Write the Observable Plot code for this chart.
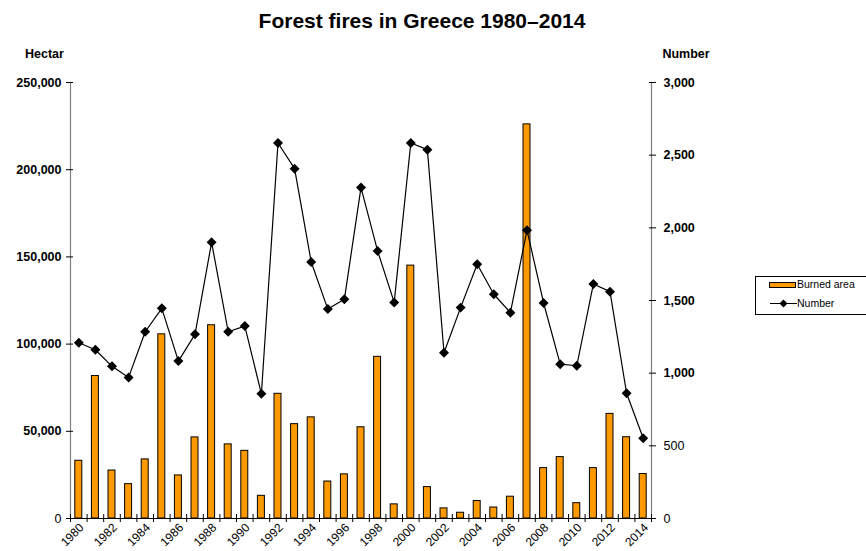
<!DOCTYPE html>
<html>
<head>
<meta charset="utf-8">
<script src="https://cdn.jsdelivr.net/npm/d3@7"></script>
<script src="https://cdn.jsdelivr.net/npm/@observablehq/plot@0.6"></script>
<style>
  body { margin: 0; background: #fff; }
  #wrap { position: relative; width: 866px; height: 551px; overflow: hidden; font-family: "Liberation Sans", Arial, sans-serif; }
  #chart { position: absolute; left: 0; top: 0; }
  #overlay { position: absolute; left: 0; top: 0; pointer-events: none; }
</style>
</head>
<body>
<div id="wrap">
  <div id="chart"></div>
  <svg id="overlay" width="866" height="551" font-family="Liberation Sans, Arial, sans-serif">
    <text x="422" y="28" text-anchor="middle" font-size="21" font-weight="bold" fill="#000">Forest fires in Greece 1980–2014</text>
    <text x="44.5" y="58" text-anchor="middle" font-size="12.5" font-weight="bold" fill="#000">Hectar</text>
    <text x="686" y="58" text-anchor="middle" font-size="12.5" font-weight="bold" fill="#000">Number</text>
    <g id="legend">
      <rect x="755.5" y="276.5" width="118" height="38" fill="#fff" stroke="#000" stroke-width="1"></rect>
      <rect x="769.5" y="282.5" width="26" height="5" fill="#FF9900" stroke="#000" stroke-width="1"></rect>
      <text x="797" y="288" font-size="10.5" fill="#000">Burned area</text>
      <line x1="770" y1="303.5" x2="797" y2="303.5" stroke="#000" stroke-width="1"></line>
      <path d="M783.5,299.5L787.5,303.5L783.5,307.5L779.5,303.5Z" fill="#000"></path>
      <text x="797" y="307" font-size="10.5" fill="#000">Number</text>
    </g>
  </svg>
</div>
<script>
// Categories
const years = [1980, 1981, 1982, 1983, 1984, 1985, 1986, 1987, 1988, 1989,
               1990, 1991, 1992, 1993, 1994, 1995, 1996, 1997, 1998, 1999,
               2000, 2001, 2002, 2003, 2004, 2005, 2006, 2007, 2008, 2009,
               2010, 2011, 2012, 2013, 2014];
// Burned area (hectares), left axis
const burnedArea = [33100, 81700, 27500, 19700, 33900, 105600, 24700, 46500, 110800, 42500,
                    38800, 13000, 71500, 54100, 58000, 21200, 25300, 52300, 92700, 8100,
                    145000, 18000, 5800, 3300, 10000, 6300, 12500, 226000, 28900, 35200,
                    8800, 28900, 60000, 46600, 25500];
// Number of fires, right axis
const fireCount = [1209, 1161, 1047, 971, 1285, 1446, 1083, 1267, 1900, 1285,
                   1324, 858, 2584, 2407, 1765, 1441, 1509, 2277, 1841, 1487,
                   2584, 2538, 1140, 1451, 1750, 1543, 1416, 1984, 1483, 1062,
                   1051, 1614, 1561, 862, 552];
// Tick values
const leftTicks = [0, 50000, 100000, 150000, 200000, 250000];
const rightTicks = [0, 500, 1000, 1500, 2000, 2500, 3000];
const labelYears = years.filter((y, i) => i % 2 === 0);

const leftMax = 250000, rightMax = 3000;
const k = leftMax / rightMax;
const data = years.map((y, i) => ({year: y, area: burnedArea[i], count: fireCount[i]}));

const W = 866, H = 551, mL = 70, mR = 215, mT = 82, mB = 33;
const step = (W - mL - mR) / years.length;
const fmt = d3.format(",");

const plot = Plot.plot({
  width: W, height: H,
  marginTop: mT, marginBottom: mB, marginLeft: mL, marginRight: mR,
  style: {fontFamily: "Liberation Sans, Arial, sans-serif", background: "#fff", color: "#000"},
  x: {type: "band", domain: years, paddingInner: 0.58, paddingOuter: 0.29, round: false, axis: null},
  y: {domain: [0, leftMax], axis: null},
  marks: [
    Plot.barY(data, {x: "year", y: "area", fill: "#FF9900", stroke: "#000", strokeWidth: 1}),
    Plot.frame({anchor: "left", stroke: "#808080", strokeWidth: 1.2}),
    Plot.frame({anchor: "right", stroke: "#808080", strokeWidth: 1.2}),
    Plot.ruleY([0], {stroke: "#000", strokeWidth: 1}),
    Plot.axisY(leftTicks, {anchor: "left", tickSize: 7, dx: 3, tickPadding: 5,
      tickFormat: fmt, fontSize: 12.5, fontWeight: "bold", label: null, stroke: "#000"}),
    Plot.axisY(rightTicks.map(v => v * k), {anchor: "right", tickSize: 7, dx: -3, tickPadding: 8,
      tickFormat: d => fmt(Math.round(d / k)), fontSize: 12.5, fontWeight: "bold", label: null, stroke: "#000"}),
    Plot.axisX(years, {anchor: "bottom", tickSize: 8, dy: -4, dx: -step / 2, tickFormat: () => "", label: null, stroke: "#000"}),
    Plot.axisX([years[years.length - 1]], {anchor: "bottom", tickSize: 8, dy: -4, dx: step / 2, tickFormat: () => "", label: null, stroke: "#000"}),
    Plot.axisX(labelYears, {anchor: "bottom", tickSize: 0, tickRotate: -45, tickPadding: 7, dx: 3,
      fontSize: 12, tickFormat: d => String(d), label: null}),
    Plot.line(data, {x: "year", y: d => d.count * k, stroke: "#000", strokeWidth: 1.2}),
    Plot.dot(data, {x: "year", y: d => d.count * k, symbol: "diamond2", r: 4.5, fill: "#000", stroke: "none"})
  ]
});

d3.select(plot).selectAll('g[aria-label="y-axis tick label"] text')
  .filter(function() { return this.textContent === "0" || this.textContent === "500"; })
  .attr("font-weight", "normal");

document.getElementById("chart").appendChild(plot);
</script>
</body>
</html>
